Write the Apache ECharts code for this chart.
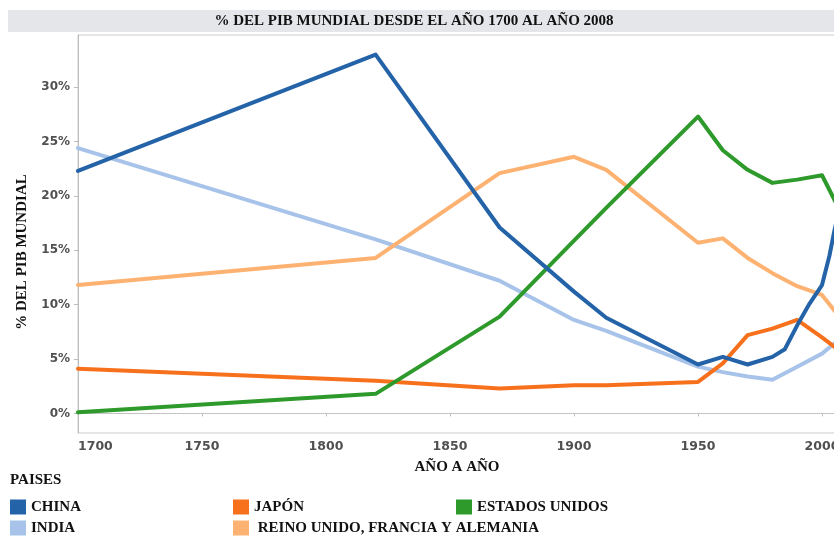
<!DOCTYPE html>
<html>
<head>
<meta charset="utf-8">
<script src="https://cdn.jsdelivr.net/npm/echarts@6/dist/echarts.min.js"></script>
<style>
html,body{margin:0;padding:0;background:#fff;}
#chart{width:834px;height:542px;}
</style>
</head>
<body>
<div id="chart"></div>
<script>
const chartTitle = '% DEL PIB MUNDIAL DESDE EL AÑO 1700 AL AÑO 2008';
const yTitle = '% DEL PIB MUNDIAL';
const xTitle = 'AÑO A AÑO';
const legendTitle = 'PAISES';

const xTickValues = [1700, 1750, 1800, 1850, 1900, 1950, 2000];
const yTickValues = [0, 5, 10, 15, 20, 25, 30];

const baseYears   = [1700, 1820, 1870, 1900, 1913, 1950, 1960, 1970, 1980, 1990, 2000, 2008];
const indiaValues = [24.4, 16.0, 12.2, 8.6, 7.6, 4.3, 3.8, 3.4, 3.1, 4.3, 5.5, 7.0];
const japanValues = [4.1, 3.0, 2.3, 2.6, 2.6, 2.9, 4.6, 7.2, 7.8, 8.6, 7.0, 5.6];
const usaValues   = [0.1, 1.8, 8.9, 15.9, 18.9, 27.3, 24.2, 22.4, 21.2, 21.5, 21.9, 18.3];
const europeValues= [11.8, 14.3, 22.1, 23.6, 22.4, 15.7, 16.1, 14.3, 12.9, 11.7, 10.9, 8.6];

const chinaYears  = [1700, 1820, 1870, 1900, 1913, 1950, 1960, 1970, 1980, 1985, 1990, 1995, 2000, 2003, 2005, 2008];
const chinaValues = [22.3, 33.0, 17.1, 11.2, 8.8, 4.5, 5.2, 4.5, 5.2, 5.9, 8.1, 10.1, 11.8, 14.5, 16.8, 19.8];

const colors = {
  'CHINA': '#2463a8',
  'INDIA': '#a7c3e9',
  'JAPÓN': '#f7701b',
  'ESTADOS UNIDOS': '#2f9a2c',
  'REINO UNIDO, FRANCIA Y ALEMANIA': '#fdb272'
};

function pairs(xs, ys) { return xs.map((x, i) => [x, ys[i]]); }

const serif = '"Liberation Serif", "Times New Roman", serif';
const sans = '"DejaVu Sans", Verdana, sans-serif';

function mkSeries(name, data, extra) {
  return Object.assign({
    name: name,
    type: 'line',
    data: data,
    showSymbol: false,
    symbol: 'none',
    silent: true,
    animation: false,
    clip: true,
    lineStyle: { width: 4, color: colors[name], cap: 'round', join: 'round' },
    itemStyle: { color: colors[name] }
  }, extra || {});
}

const series = [
  mkSeries('INDIA', pairs(baseYears, indiaValues)),
  mkSeries('REINO UNIDO, FRANCIA Y ALEMANIA', pairs(baseYears, europeValues)),
  mkSeries('JAPÓN', pairs(baseYears, japanValues)),
  mkSeries('ESTADOS UNIDOS', pairs(baseYears, usaValues), {
    markLine: {
      silent: true, symbol: 'none', animation: false,
      label: { show: false },
      lineStyle: { color: '#cccccc', type: 'dotted', width: 1 },
      data: [{ yAxis: 0 }],
      z: 1
    }
  }),
  mkSeries('CHINA', pairs(chinaYears, chinaValues))
];

function legendItem(name, left, top, formatter) {
  return {
    data: [{ name: name, icon: 'rect' }],
    left: left, top: top,
    padding: 0,
    itemWidth: 16, itemHeight: 15,
    selectedMode: false,
    textStyle: { fontFamily: serif, fontWeight: 'bold', fontSize: 15, color: '#111' },
    formatter: formatter || '{name}'
  };
}

const chart = echarts.init(document.getElementById('chart'), null, { renderer: 'canvas' });
chart.setOption({
  animation: false,
  backgroundColor: '#ffffff',
  grid: { left: 78, top: 35, right: -12.8, bottom: 109, show: true, borderColor: '#cccccc', borderWidth: 1, containLabel: false, outerBoundsMode: 'none' },
  xAxis: {
    type: 'value', min: 1700, max: 2010,
    axisLine: { show: true, lineStyle: { color: '#bdbdbd', width: 1 } },
    axisTick: { show: true, length: 3, lineStyle: { color: '#bdbdbd' }, customValues: xTickValues },
    axisLabel: { customValues: xTickValues, color: '#505050', fontFamily: sans, fontWeight: 'bold', fontSize: 12.5, margin: 7, alignMinLabel: 'left', formatter: v => String(v) },
    splitLine: { show: false }
  },
  yAxis: {
    type: 'value', min: -1.8, max: 34.8,
    axisLine: { show: true, lineStyle: { color: '#bdbdbd', width: 1 } },
    axisTick: { show: true, length: 4, lineStyle: { color: '#bdbdbd' }, customValues: yTickValues },
    axisLabel: { customValues: yTickValues, color: '#505050', fontFamily: sans, fontWeight: 'bold', fontSize: 12, margin: 8, formatter: v => v + '%' },
    splitLine: { show: false }
  },
  legend: [
    legendItem('CHINA', 10, 499.5),
    legendItem('INDIA', 10, 520.5),
    legendItem('JAPÓN', 233, 499.5),
    legendItem('REINO UNIDO, FRANCIA Y ALEMANIA', 233, 520.5, ' {name}'),
    legendItem('ESTADOS UNIDOS', 456, 499.5)
  ],
  graphic: [
    { type: 'rect', left: 8, top: 10, shape: { width: 826, height: 22 }, style: { fill: '#e5e6ea' }, silent: true, z: 0 },
    { type: 'text', x: 414, y: 21, style: { text: chartTitle, font: 'bold 15px ' + serif, fill: '#111', align: 'center', verticalAlign: 'middle' }, silent: true, z: 10 },
    { type: 'text', x: 22, y: 252, rotation: Math.PI / 2, style: { text: yTitle, font: 'bold 15px ' + serif, fill: '#111', align: 'center', verticalAlign: 'middle' }, silent: true, z: 10 },
    { type: 'text', x: 457, y: 467, style: { text: xTitle, font: 'bold 15px ' + serif, fill: '#111', align: 'center', verticalAlign: 'middle' }, silent: true, z: 10 },
    { type: 'text', x: 10, y: 480, style: { text: legendTitle, font: 'bold 15px ' + serif, fill: '#111', align: 'left', verticalAlign: 'middle' }, silent: true, z: 10 }
  ],
  series: series
});
</script>
</body>
</html>
